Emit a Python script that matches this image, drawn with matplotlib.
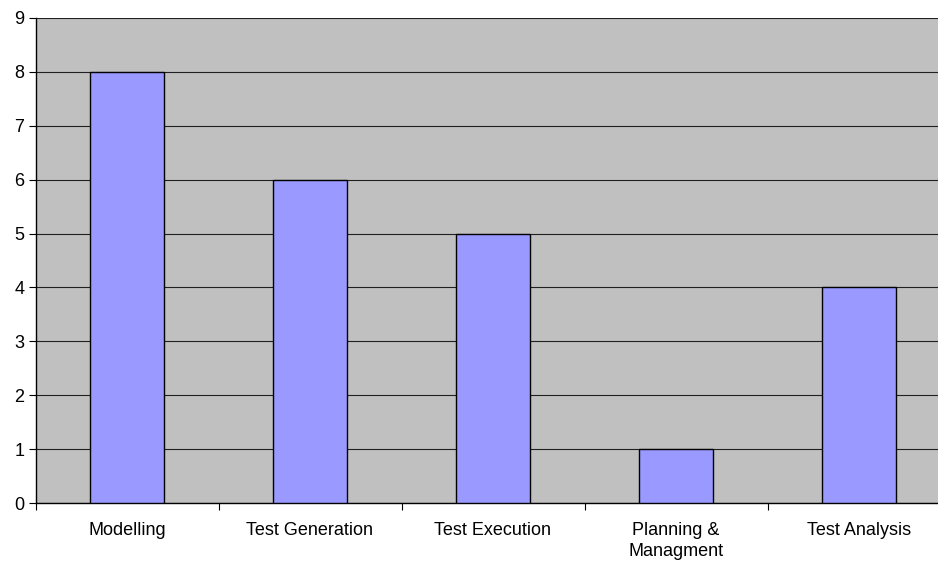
import matplotlib
matplotlib.use("Agg")
import matplotlib.pyplot as plt
import numpy as np

categories = ["Modelling", "Test Generation", "Test Execution", "Planning &\nManagment", "Test Analysis"]
values = [8, 6, 5, 1, 4]
yticks = [0, 1, 2, 3, 4, 5, 6, 7, 8, 9]

plt.rcParams['font.family'] = ['Liberation Sans', 'DejaVu Sans']

W, H = 938, 562
fig = plt.figure(figsize=(W / 100, H / 100), dpi=100)
left, right, top, bottom = 35.5, 950.5, 18, 503
ax = fig.add_axes([left / W, (H - bottom) / H, (right - left) / W, (bottom - top) / H])
ax.set_facecolor("#C0C0C0")

x = np.arange(len(categories))
ax.set_axisbelow(True)
ax.yaxis.grid(True, color="#202020", linewidth=0.8)
ax.bar(x, values, width=0.4, color="#9999FF", edgecolor="black", linewidth=1.0, zorder=3)

ax.set_xlim(-0.5, len(categories) - 0.5)
ax.set_ylim(0, 9)
ax.set_yticks(yticks)
ax.set_yticklabels([str(v) for v in yticks], fontsize=13)

ax.set_xticks(np.arange(len(categories) + 1) - 0.5)
ax.set_xticklabels([])
ax.set_xticks(x, minor=True)
ax.set_xticklabels(categories, minor=True, fontsize=13, linespacing=1.3)
ax.tick_params(axis="x", which="minor", length=0, pad=14)
ax.tick_params(axis="x", which="major", length=5, width=0.8, direction="out")
ax.tick_params(axis="y", length=5, width=0.8, direction="out", pad=3)

for s in ["top", "right"]:
    ax.spines[s].set_visible(False)
for s in ["left", "bottom"]:
    ax.spines[s].set_color("black")
    ax.spines[s].set_linewidth(1.0)

fig.savefig("out.png", dpi=100, facecolor="white")
